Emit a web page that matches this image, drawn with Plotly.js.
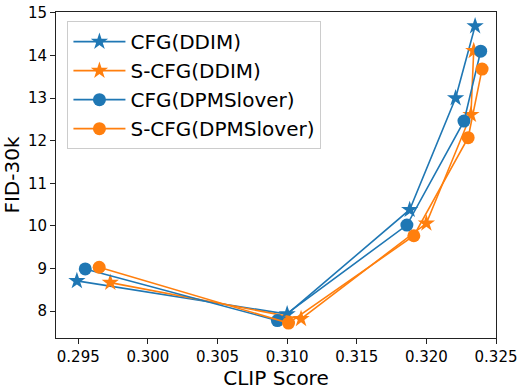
<!DOCTYPE html>
<html>
<head>
<meta charset="utf-8">
<script src="https://cdn.plot.ly/plotly-3.0.1.min.js"></script>
<style>
  html, body { margin: 0; padding: 0; background: #fff; }
  #chart { width: 530px; height: 390px; }
</style>
</head>
<body>
<div id="chart"></div>
<script>
// CLIP score (x) vs FID-30k (y)
let cfgDdimX = [0.2949, 0.3100, 0.3188, 0.3221, 0.3235];
let cfgDdimY = [8.71, 7.93, 10.38, 13.00, 14.69];

let scfgDdimX = [0.2973, 0.3110, 0.3200, 0.3232, 0.3234];
let scfgDdimY = [8.67, 7.82, 10.06, 12.61, 14.11];

let cfgDpmX = [0.2955, 0.3093, 0.3186, 0.3227, 0.3239];
let cfgDpmY = [8.99, 7.78, 10.02, 12.46, 14.10];

let scfgDpmX = [0.2965, 0.3101, 0.3191, 0.3230, 0.3240];
let scfgDpmY = [9.03, 7.72, 9.77, 12.07, 13.68];

let xTicks = [0.295, 0.300, 0.305, 0.310, 0.315, 0.320, 0.325];
let yTicks = [8, 9, 10, 11, 12, 13, 14, 15];

const blue = '#1f77b4';
const orange = '#ff7f0e';

function series(x, y, name, color, symbol, size){
  return {
    x: x, y: y, name: name,
    type: 'scatter', mode: 'lines+markers',
    line: {color: color, width: 1.6},
    marker: {color: color, symbol: symbol, size: size}
  };
}

let data = [
  series(cfgDdimX, cfgDdimY, 'CFG(DDIM)', blue, 'star', 13),
  series(scfgDdimX, scfgDdimY, 'S-CFG(DDIM)', orange, 'star', 13),
  series(cfgDpmX, cfgDpmY, 'CFG(DPMSlover)', blue, 'circle', 13),
  series(scfgDpmX, scfgDpmY, 'S-CFG(DPMSlover)', orange, 'circle', 13)
];

let layout = {
  width: 530,
  height: 390,
  margin: {l: 56, r: 34, t: 12, b: 52},
  paper_bgcolor: '#fff',
  plot_bgcolor: '#fff',
  font: {family: 'DejaVu Sans', color: '#000'},
  showlegend: true,
  legend: {
    x: 0.026, y: 0.972, xanchor: 'left', yanchor: 'top',
    bgcolor: 'rgba(255,255,255,0.8)',
    bordercolor: '#cccccc', borderwidth: 1,
    font: {size: 20, family: 'DejaVu Sans'},
    itemwidth: 52,
    tracegroupgap: 0
  },
  xaxis: {
    range: [0.2934, 0.325],
    tickvals: xTicks,
    ticktext: xTicks.map(v => v.toFixed(3)),
    showgrid: false, zeroline: false,
    showline: true, mirror: true, linecolor: '#222', linewidth: 1,
    ticks: 'outside', ticklen: 5, tickcolor: '#222',
    tickfont: {size: 15},
    title: {text: 'CLIP Score', font: {size: 20}, standoff: 5}
  },
  yaxis: {
    range: [7.37, 15.02],
    tickvals: yTicks,
    showgrid: false, zeroline: false,
    showline: true, mirror: true, linecolor: '#222', linewidth: 1,
    ticks: 'outside', ticklen: 5, tickcolor: '#222',
    tickfont: {size: 15},
    title: {text: 'FID-30k', font: {size: 20}, standoff: 4}
  }
};

Plotly.newPlot(document.getElementById('chart'), data, layout, {displayModeBar: false});
</script>
</body>
</html>
